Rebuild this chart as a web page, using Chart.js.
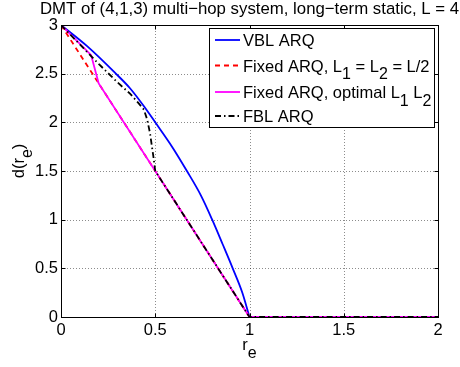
<!DOCTYPE html>
<html>
<head>
<meta charset="utf-8">
<script src="https://cdn.jsdelivr.net/npm/chart.js@4/dist/chart.umd.min.js"></script>
<style>
  html, body { margin: 0; padding: 0; background: #fff; }
  canvas { display: block; }
</style>
</head>
<body>
<canvas id="dmtChart" width="460" height="367"></canvas>
<script>
// Values (r_e on x, d(r_e) on y)
const vblR = [0, 0.14, 0.286, 0.366, 0.44, 0.5, 0.589, 0.668, 0.742, 0.802, 0.857, 0.911, 0.962, 1];
const vblD = [3, 2.78, 2.51, 2.35, 2.165, 2.0, 1.75, 1.5, 1.25, 1.0, 0.75, 0.5, 0.25, 0];

const fixedHalfR = [0, 1, 2];
const fixedHalfD = [3, 0, 0];

const fixedOptR = [0, 0.16, 0.2, 1, 2];
const fixedOptD = [3, 2.69, 2.4, 0, 0];

const fblR = [0, 0.1, 0.2, 0.25, 0.3, 0.366, 0.41, 0.44, 0.457, 0.472, 0.49, 0.5, 1, 2];
const fblD = [3, 2.8, 2.6, 2.505, 2.41, 2.295, 2.2, 2.13, 2.03, 1.89, 1.65, 1.5, 0, 0];

const xTicks = [0, 0.5, 1, 1.5, 2];
const yTicks = [0, 0.5, 1, 1.5, 2, 2.5, 3];

// "_x" marks a one-character subscript
const seriesLabels = ['VBL ARQ', 'Fixed ARQ, L_1 = L_2 = L/2', 'Fixed ARQ, optimal L_1 L_2', 'FBL ARQ'];
const titleText = 'DMT of (4,1,3) multi\u2212hop system, long\u2212term static, L = 4';

const FONT = '"Liberation Sans", Arial, Helvetica, sans-serif';
const FS = 16.5;

const toPoints = (xs, ys) => xs.map((v, i) => ({ x: v, y: ys[i] }));

// draws text with single-char subscripts, returns the end x
function drawRich(ctx, text, x, y) {
  let cx = x;
  for (let i = 0; i < text.length; i++) {
    if (text[i] === '_' && i + 1 < text.length) {
      ctx.font = `16px ${FONT}`;
      ctx.fillText(text[i + 1], cx, y + 7.5);
      cx += ctx.measureText(text[i + 1]).width;
      i++;
    } else {
      ctx.font = `${FS}px ${FONT}`;
      ctx.fillText(text[i], cx, y);
      cx += ctx.measureText(text[i]).width;
    }
  }
  return cx;
}

function richWidth(ctx, text) {
  ctx.save();
  let w = 0;
  for (let i = 0; i < text.length; i++) {
    if (text[i] === '_' && i + 1 < text.length) {
      ctx.font = `16px ${FONT}`;
      w += ctx.measureText(text[i + 1]).width;
      i++;
    } else {
      ctx.font = `${FS}px ${FONT}`;
      w += ctx.measureText(text[i]).width;
    }
  }
  ctx.restore();
  return w;
}

// MATLAB style: dotted grid, boxed axes with inward ticks, boxed legend
const matlabAxes = {
  id: 'matlabAxes',
  beforeDatasetsDraw(chart) {
    const { ctx, chartArea: a, scales: { x, y } } = chart;
    ctx.save();
    ctx.strokeStyle = 'rgba(0,0,0,0.45)';
    ctx.lineWidth = 1;
    ctx.setLineDash([1, 2]);
    ctx.beginPath();
    xTicks.slice(1, -1).forEach(v => {
      const px = Math.round(x.getPixelForValue(v)) + 0.5;
      ctx.moveTo(px, a.top);
      ctx.lineTo(px, a.bottom);
    });
    yTicks.slice(1, -1).forEach(v => {
      const py = Math.round(y.getPixelForValue(v)) + 0.5;
      ctx.moveTo(a.left, py);
      ctx.lineTo(a.right, py);
    });
    ctx.stroke();
    ctx.restore();
  },
  afterDatasetsDraw(chart) {
    const { ctx, chartArea: a, scales: { x, y } } = chart;
    const L = Math.round(a.left) + 0.5, R = Math.round(a.right) + 0.5;
    const T = Math.round(a.top) + 0.5, B = Math.round(a.bottom) + 0.5;
    ctx.save();
    ctx.strokeStyle = '#000';
    ctx.lineWidth = 1;
    ctx.strokeRect(L, T, R - L, B - T);
    ctx.beginPath();
    xTicks.forEach(v => {
      const px = Math.round(x.getPixelForValue(v)) + 0.5;
      ctx.moveTo(px, B); ctx.lineTo(px, B - 4);
      ctx.moveTo(px, T); ctx.lineTo(px, T + 4);
    });
    yTicks.forEach(v => {
      const py = Math.round(y.getPixelForValue(v)) + 0.5;
      ctx.moveTo(L, py); ctx.lineTo(L + 4, py);
      ctx.moveTo(R, py); ctx.lineTo(R - 4, py);
    });
    ctx.stroke();

    // legend
    const box = { left: 209.5, top: 28.5, right: 434.5, bottom: 127.5 };
    ctx.fillStyle = '#fff';
    ctx.fillRect(box.left, box.top, box.right - box.left, box.bottom - box.top);
    ctx.strokeRect(box.left, box.top, box.right - box.left, box.bottom - box.top);
    const rowY = [40, 65.5, 92, 116];
    chart.data.datasets.forEach((ds, i) => {
      ctx.save();
      ctx.strokeStyle = ds.borderColor;
      ctx.lineWidth = ds.borderWidth;
      ctx.setLineDash(ds.borderDash || []);
      ctx.beginPath();
      ctx.moveTo(215, rowY[i]);
      ctx.lineTo(240, rowY[i]);
      ctx.stroke();
      ctx.restore();
      ctx.fillStyle = '#000';
      ctx.textBaseline = 'alphabetic';
      ctx.textAlign = 'left';
      drawRich(ctx, ds.label, 243, rowY[i] + 6);
    });
    ctx.restore();
  },
  afterDraw(chart) {
    const { ctx, chartArea: a } = chart;
    const cx = (a.left + a.right) / 2;
    const cy = (a.top + a.bottom) / 2;
    ctx.save();
    ctx.fillStyle = '#000';
    ctx.textBaseline = 'alphabetic';
    ctx.textAlign = 'left';
    // title
    ctx.font = `16.8px ${FONT}`;
    const tw = ctx.measureText(titleText).width;
    ctx.fillText(titleText, cx - tw / 2, 13.5);
    // x title
    const xl = 'r_e';
    drawRich(ctx, xl, cx - richWidth(ctx, xl) / 2, 350);
    // y title
    const yl = 'd(r_e)';
    ctx.translate(24, cy - 10);
    ctx.rotate(-Math.PI / 2);
    drawRich(ctx, yl, -richWidth(ctx, yl) / 2, 0);
    ctx.restore();
  }
};

const ctx = document.getElementById('dmtChart').getContext('2d');
new Chart(ctx, {
  type: 'line',
  data: {
    datasets: [
      { label: seriesLabels[0], data: toPoints(vblR, vblD), borderColor: '#0000ff', borderWidth: 1.8, cubicInterpolationMode: 'monotone', order: 4 },
      { label: seriesLabels[1], data: toPoints(fixedHalfR, fixedHalfD), borderColor: '#ff0000', borderWidth: 1.8, borderDash: [5, 4], order: 3 },
      { label: seriesLabels[2], data: toPoints(fixedOptR, fixedOptD), borderColor: '#ff00ff', borderWidth: 1.8, order: 2 },
      { label: seriesLabels[3], data: toPoints(fblR, fblD), borderColor: '#000000', borderWidth: 1.8, borderDash: [6, 3, 1.5, 3], order: 1 }
    ]
  },
  options: {
    responsive: false,
    animation: false,
    devicePixelRatio: 1,
    elements: { point: { radius: 0, hoverRadius: 0 }, line: { tension: 0, fill: false } },
    layout: { padding: { left: 0, top: 25, right: 22, bottom: 0 } },
    plugins: { legend: { display: false }, title: { display: false }, tooltip: { enabled: false } },
    scales: {
      x: {
        type: 'linear', min: 0, max: 2,
        afterBuildTicks: s => { s.ticks = xTicks.map(v => ({ value: v })); },
        afterFit: s => { s.height = 50; },
        grid: { display: false, drawTicks: false },
        border: { display: false },
        ticks: { color: '#000', padding: 4, maxRotation: 0, font: { family: FONT, size: FS }, callback: v => String(v) }
      },
      y: {
        type: 'linear', min: 0, max: 3,
        afterBuildTicks: s => { s.ticks = yTicks.map(v => ({ value: v })); },
        afterFit: s => { s.width = 61; },
        grid: { display: false, drawTicks: false },
        border: { display: false },
        ticks: { color: '#000', padding: 3, font: { family: FONT, size: FS }, callback: v => String(v) }
      }
    }
  },
  plugins: [matlabAxes]
});
</script>
</body>
</html>
